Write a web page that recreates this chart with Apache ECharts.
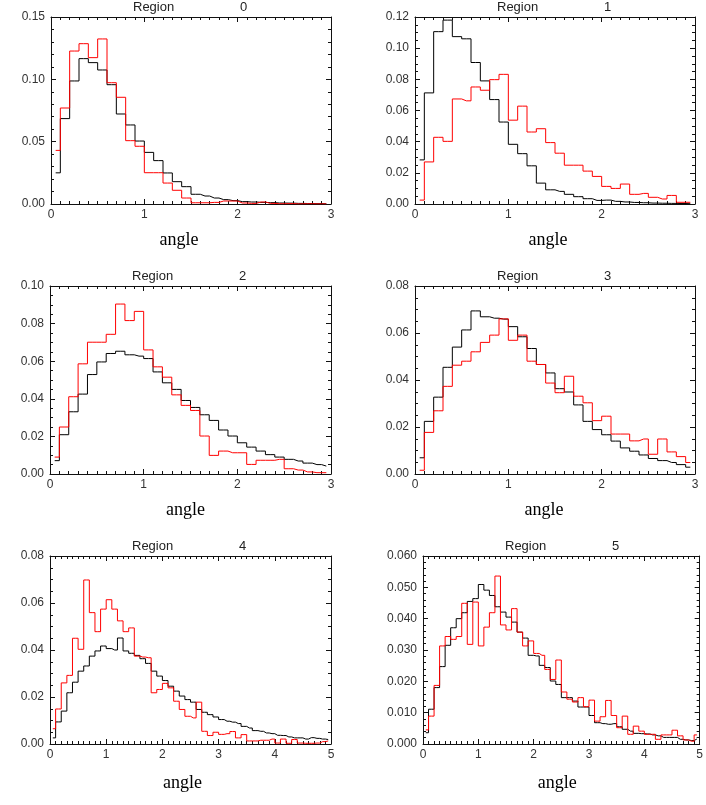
<!DOCTYPE html>
<html>
<head>
<meta charset="utf-8">
<script src="https://cdn.jsdelivr.net/npm/echarts@6/dist/echarts.min.js"></script>
<style>
html,body{margin:0;padding:0;background:#fff;}
#c{width:706px;height:805px;}
</style>
</head>
<body>
<div id="c"></div>
<script>
// ---------------- data ----------------
const regionNames = ['0', '1', '2', '3', '4', '5'];
const xTitle = 'angle';
const binWidth = 0.1;
const xMax = [3, 3, 3, 3, 5, 5];
const xTickStep = [1, 1, 1, 1, 1, 1];
const yMax = [0.15, 0.12, 0.10, 0.08, 0.08, 0.060];
const yTickStep = [0.05, 0.02, 0.02, 0.02, 0.02, 0.010];
const yTickDecimals = [2, 2, 2, 2, 2, 3];

const black0 = [0.025,0.0685,0.0987,0.1166,0.1134,0.1075,0.0957,0.0722,0.0634,0.0505,0.0414,0.0348,0.0249,0.0179,0.0139,0.0078,0.0064,0.0048,0.0035,0.0027,0.0019,0.0016,0.0013,0.0011,0.0008,0.0007,0.0005,0.0004,0.0003,0.0002];
const red0   = [0.043,0.077,0.1227,0.1286,0.1174,0.1324,0.0973,0.0856,0.0508,0.0463,0.0251,0.0251,0.0168,0.011,0.0048,0.001,0.001,0.0013,0.0024,0.0024,0.0008,0.0005,0.0016,0.0005,0.0002,0.0003,0.0001,0.0002,0.0001,0.0001];

const black1 = [0.0283,0.0713,0.1106,0.118,0.1074,0.106,0.0908,0.079,0.067,0.0526,0.0383,0.0323,0.0245,0.0134,0.0091,0.0081,0.0062,0.0047,0.0034,0.0023,0.0025,0.0017,0.0013,0.001,0.0008,0.0006,0.0005,0.0004,0.0003,0.0002];
const red1   = [0.0025,0.027,0.0428,0.0402,0.0674,0.0662,0.0751,0.073,0.0798,0.0832,0.0538,0.0628,0.0462,0.0483,0.0394,0.0326,0.0249,0.0249,0.0211,0.0177,0.0113,0.01,0.0128,0.0062,0.0068,0.0043,0.0032,0.0055,0.0011,0.0011];

const black2 = [0.0071,0.0209,0.0331,0.0425,0.0529,0.0596,0.0641,0.0653,0.0634,0.0627,0.0614,0.0543,0.0485,0.045,0.0391,0.0354,0.0315,0.0285,0.0234,0.0202,0.0166,0.0143,0.0122,0.0103,0.009,0.0078,0.0069,0.0058,0.005,0.0042];
const red2   = [0.009,0.025,0.0411,0.0586,0.0701,0.0701,0.0743,0.0904,0.0816,0.0865,0.066,0.057,0.0515,0.0421,0.0365,0.0338,0.0202,0.0099,0.0122,0.0113,0.0113,0.0051,0.0073,0.0073,0.0078,0.0028,0.0021,0.0011,0.0007,0.0007];

const black3 = [0.0069,0.0224,0.0327,0.0454,0.054,0.0613,0.0694,0.0669,0.0663,0.0659,0.0627,0.0584,0.0534,0.0466,0.043,0.0363,0.0349,0.0294,0.0224,0.0189,0.0167,0.014,0.0111,0.0097,0.0081,0.0066,0.0057,0.0049,0.004,0.0029];
const red3   = [0.0016,0.0177,0.0269,0.0373,0.0463,0.048,0.052,0.056,0.0591,0.066,0.0569,0.0591,0.048,0.0466,0.0387,0.0346,0.0416,0.0331,0.0303,0.0227,0.0246,0.017,0.017,0.0141,0.0149,0.0084,0.0149,0.0094,0.0074,0.0049];

const black4 = [0.0026,0.0094,0.014,0.0218,0.0263,0.031,0.0332,0.0374,0.0396,0.0417,0.0406,0.04,0.0451,0.0396,0.0386,0.0377,0.0363,0.0343,0.031,0.0289,0.027,0.0246,0.0225,0.0204,0.0189,0.0178,0.0147,0.0135,0.0125,0.0115,0.0104,0.0097,0.0093,0.0087,0.0075,0.0068,0.0057,0.0054,0.0047,0.0044,0.0037,0.0036,0.003,0.0026,0.0026,0.0021,0.0027,0.0024,0.0021,0.0019];
const red4   = [0.0065,0.0149,0.026,0.0292,0.045,0.0403,0.0698,0.0559,0.0478,0.0574,0.0614,0.0574,0.0524,0.0478,0.0494,0.0374,0.037,0.0367,0.0218,0.0232,0.0258,0.0239,0.0182,0.0147,0.0118,0.0111,0.0178,0.0054,0.0036,0.005,0.0041,0.0044,0.0053,0.0026,0.004,0.0013,0.0013,0.0016,0.0016,0.0021,0.0004,0.0021,0.0003,0.0019,0.0004,0.0003,0.0003,0.0004,0.001,0.0013];

const black5 = [0.0036,0.0111,0.018,0.0247,0.0315,0.0371,0.04,0.0419,0.0455,0.0464,0.0509,0.0491,0.0474,0.0438,0.0421,0.0405,0.0389,0.0357,0.0338,0.0283,0.0281,0.0251,0.0244,0.0201,0.019,0.0148,0.0148,0.0137,0.0118,0.0118,0.0091,0.0068,0.0065,0.0063,0.0065,0.0055,0.0047,0.0041,0.0034,0.0033,0.0032,0.0029,0.0026,0.0021,0.0021,0.0021,0.0015,0.0013,0.0011,0.0016];
const red5   = [0.0045,0.0089,0.0187,0.0313,0.0343,0.0334,0.0343,0.0449,0.0318,0.0453,0.0313,0.0373,0.0419,0.0536,0.038,0.0364,0.0432,0.0357,0.0313,0.0329,0.0289,0.0283,0.0238,0.0206,0.0268,0.0166,0.0143,0.0134,0.0148,0.0119,0.014,0.0073,0.0087,0.0139,0.0091,0.0052,0.0089,0.0031,0.0057,0.0041,0.0031,0.0031,0.0015,0.0029,0.0029,0.0044,0.0026,0.0013,0.0009,0.0029];

const blackSeries = [black0, black1, black2, black3, black4, black5];
const redSeries = [red0, red1, red2, red3, red4, red5];

// ---------------- layout / style ----------------
const grids = [
  {left: 51,  top: 17,  width: 280, height: 187},
  {left: 415, top: 17,  width: 280, height: 187},
  {left: 50,  top: 286, width: 281, height: 188},
  {left: 415, top: 286, width: 280, height: 188},
  {left: 50,  top: 556, width: 281, height: 188},
  {left: 423, top: 556, width: 280, height: 188}
];
const yMinorSplit = [5, 4, 4, 4, 4, 5];
const nameGaps = [27, 27, 27, 27, 30, 30];
const nameShift = [12, 7, 5, 11, 8, 4];

const AXIS_COLOR = '#111';
const LABEL_COLOR = '#333';
const SANS = '"Liberation Sans", Arial, Helvetica, sans-serif';
const SERIF = '"Liberation Serif", "Times New Roman", serif';

function centers(n) {
  const out = [];
  for (let k = 0; k < n; k++) out.push(+((k + 0.5) * binWidth).toFixed(2));
  return out;
}

const option = {
  animation: false,
  backgroundColor: '#fff',
  grid: [], xAxis: [], yAxis: [], series: [], graphic: []
};

grids.forEach((g, i) => {
  option.grid.push({left: g.left, top: g.top, width: g.width, height: g.height, containLabel: false});
  const baseX = {
    type: 'value', gridIndex: i, min: 0, max: xMax[i], interval: xTickStep[i],
    axisLine: {show: true, onZero: false, lineStyle: {color: AXIS_COLOR, width: 1}},
    axisTick: {show: true, inside: true, length: 5, lineStyle: {color: AXIS_COLOR}},
    minorTick: {show: true, splitNumber: 10, length: 3, lineStyle: {color: AXIS_COLOR}},
    splitLine: {show: false},
    minorSplitLine: {show: false}
  };
  option.xAxis.push(Object.assign({}, baseX, {
    position: 'bottom',
    axisLabel: {show: true, color: LABEL_COLOR, fontSize: 12, fontFamily: SANS, margin: 5},
    name: xTitle, nameLocation: 'middle', nameGap: nameGaps[i],
    nameTextStyle: {color: '#000', fontSize: 18, fontFamily: SERIF, padding: [0, nameShift[i] * 2, 0, 0]}
  }));
  option.xAxis.push(Object.assign({}, baseX, {
    position: 'top', axisLabel: {show: false}
  }));
  const baseY = {
    type: 'value', gridIndex: i, min: 0, max: yMax[i], interval: yTickStep[i],
    axisLine: {show: true, onZero: false, lineStyle: {color: AXIS_COLOR, width: 1}},
    axisTick: {show: true, inside: true, length: 5, lineStyle: {color: AXIS_COLOR}},
    minorTick: {show: true, splitNumber: yMinorSplit[i], length: 3, lineStyle: {color: AXIS_COLOR}},
    splitLine: {show: false},
    minorSplitLine: {show: false}
  };
  const dec = yTickDecimals[i];
  option.yAxis.push(Object.assign({}, baseY, {
    position: 'left',
    axisLabel: {show: true, color: LABEL_COLOR, fontSize: 12, fontFamily: SANS, margin: 6,
      formatter: v => v.toFixed(dec)}
  }));
  option.yAxis.push(Object.assign({}, baseY, {
    position: 'right', axisLabel: {show: false}
  }));

  const xs = centers(blackSeries[i].length);
  [[blackSeries[i], '#000000'], [redSeries[i], '#ff0000']].forEach(([vals, col]) => {
    option.series.push({
      type: 'line', step: 'middle', xAxisIndex: 2 * i, yAxisIndex: 2 * i,
      data: vals.map((v, k) => [xs[k], v]),
      showSymbol: false, symbol: 'none', silent: true,
      lineStyle: {color: col, width: 1}, itemStyle: {color: col}
    });
  });

  option.graphic.push({
    type: 'text', left: g.left + 82, top: g.top - 16, silent: true,
    style: {text: 'Region', fill: '#222', font: '13px ' + SANS}
  });
  option.graphic.push({
    type: 'text', left: g.left + 189, top: g.top - 16, silent: true,
    style: {text: regionNames[i], fill: '#222', font: '13px ' + SANS}
  });
});

const chart = echarts.init(document.getElementById('c'), null, {renderer: 'canvas'});
chart.setOption(option);
</script>
</body>
</html>
